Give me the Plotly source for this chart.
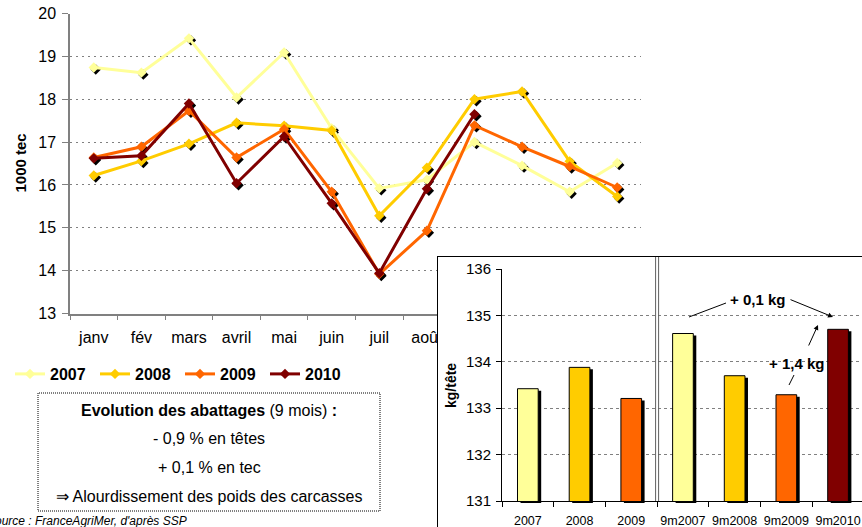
import plotly.graph_objects as go

W, H = 862, 527
FONT = "Liberation Sans, Arial, sans-serif"

# ---------------- data ----------------
months = ["janv", "fév", "mars", "avril", "mai", "juin", "juil", "août",
          "sept", "oct", "nov", "déc"]
years = ["2007", "2008", "2009", "2010"]
v2007 = [18.74, 18.62, 19.42, 18.04, 19.09, 17.32, 15.92, 16.12, 17.00, 16.45, 15.84, 16.51]
v2008 = [16.22, 16.56, 16.96, 17.45, 17.38, 17.27, 15.28, 16.40, 18.00, 18.18, 16.55, 15.73]
v2009 = [16.64, 16.89, 17.73, 16.64, 17.30, 15.84, 13.92, 14.93, 17.39, 16.89, 16.43, 15.94]
v2010 = [16.62, 16.68, 17.90, 16.04, 17.13, 15.57, 13.94, 15.91, 17.65]
series = [v2007, v2008, v2009, v2010]
year_colors = ["#FFFF99", "#FFCC00", "#FF6600", "#800000"]

bar_cats = ["2007", "2008", "2009", "9m2007", "9m2008", "9m2009", "9m2010"]
bar_vals = [133.42, 133.88, 133.21, 134.61, 133.70, 133.29, 134.70]
bar_colors = ["#FFFF99", "#FFCC00", "#FF6600", "#FFFF99", "#FFCC00", "#FF6600", "#800000"]

main_yticks = [13, 14, 15, 16, 17, 18, 19, 20]
inset_yticks = [131, 132, 133, 134, 135, 136]


def fx(p):
    return p / W


def fy(p):
    return 1 - p / H


# ---------------- geometry ----------------
MX = [fx(70), fx(641)]
MY = [fy(313.5), fy(13.5)]
SH = 2  # marker shadow offset (px)
MXS = [fx(70 + SH), fx(641 + SH)]
MYS = [fy(313.5 + SH), fy(13.5 + SH)]
MRX = [-0.5, 11.5]
MRY = [13, 20]

CX = [fx(438), 1]
CY = [0, fy(257)]

IX = [fx(502), 1]
IY = [fy(501), fy(269)]
CAT = 51.7
IRX = [-0.5, -0.5 + (W - 502) / CAT]
IRY = [131, 136]
BSX, BSY = 3, 2
IXS = [fx(502 + BSX), 1]
IYS = [fy(501 + BSY), fy(269 + BSY)]
IRXS = [-0.5, -0.5 + (W - 502 - BSX) / CAT]

fig = go.Figure()

# empty trace so that the main axes subplot (xy) is drawn
fig.add_trace(go.Scatter(x=[], y=[], xaxis="x", yaxis="y", showlegend=False,
                         hoverinfo="skip"))

# shadows of markers (subplot 2)
for vals in series:
    fig.add_trace(go.Scatter(
        x=months[:len(vals)], y=vals, mode="markers", xaxis="x2", yaxis="y2",
        marker=dict(symbol="diamond", size=8, color="black"),
        showlegend=False, hoverinfo="skip"))

# coloured lines (subplot 3)
for name, vals, col in zip(years, series, year_colors):
    fig.add_trace(go.Scatter(
        x=months[:len(vals)], y=vals, mode="lines+markers", name=name,
        xaxis="x3", yaxis="y3",
        line=dict(color=col, width=3),
        marker=dict(symbol="diamond", size=8, color=col)))

# empty traces to make the cover subplot and inset axes subplot exist
fig.add_trace(go.Scatter(x=[], y=[], xaxis="x4", yaxis="y4", showlegend=False,
                         hoverinfo="skip"))
fig.add_trace(go.Scatter(x=[], y=[], xaxis="x5", yaxis="y5", showlegend=False,
                         hoverinfo="skip"))

# bar shadows (subplot 6)
fig.add_trace(go.Bar(x=bar_cats, y=bar_vals, xaxis="x6", yaxis="y6", width=0.4,
                     marker=dict(color="black", line=dict(width=0)),
                     showlegend=False, hoverinfo="skip"))
# bars (subplot 7)
fig.add_trace(go.Bar(x=bar_cats, y=bar_vals, xaxis="x7", yaxis="y7", width=0.4,
                     marker=dict(color=bar_colors, line=dict(color="black", width=1)),
                     showlegend=False))

hidden = dict(visible=False, fixedrange=True, automargin=False)

layout = dict(
    width=W, height=H, margin=dict(l=0, r=0, t=0, b=0, pad=0),
    paper_bgcolor="white", plot_bgcolor="rgba(0,0,0,0)",
    font=dict(family=FONT, size=16, color="black"),
    barmode="overlay",
    # main visible axes
    xaxis=dict(domain=MX, anchor="y", type="category", categoryorder="array",
               categoryarray=months, range=MRX, tickson="boundaries",
               ticks="outside", ticklen=5, tickcolor="#808080",
               showline=True, linecolor="#808080", linewidth=1.5,
               showgrid=False, zeroline=False, tickfont=dict(size=16),
               ticklabelstandoff=9, tickangle=0, automargin=False, fixedrange=True),
    yaxis=dict(domain=MY, anchor="x", range=MRY, tickvals=main_yticks,
               ticks="outside", ticklen=6, tickcolor="#808080",
               showline=True, linecolor="#808080", linewidth=1.5,
               showgrid=True, gridcolor="#808080", griddash="2px,4px", gridwidth=1,
               zeroline=False, tickfont=dict(size=16), ticklabelstandoff=3,
               automargin=False, fixedrange=True),
    xaxis2=dict(domain=MXS, anchor="y2", type="category", categoryorder="array",
                categoryarray=months, range=MRX, **hidden),
    yaxis2=dict(domain=MYS, anchor="x2", range=MRY, **hidden),
    xaxis3=dict(domain=MX, anchor="y3", type="category", categoryorder="array",
                categoryarray=months, range=MRX, **hidden),
    yaxis3=dict(domain=MY, anchor="x3", range=MRY, **hidden),
    # cover box
    xaxis4=dict(domain=CX, anchor="y4", range=[0, 1], side="top", showline=True,
                linecolor="black", linewidth=1, showticklabels=False, ticks="",
                showgrid=False, zeroline=False, fixedrange=True, automargin=False),
    yaxis4=dict(domain=CY, anchor="x4", range=[0, 1], showline=True,
                linecolor="black", linewidth=1, showticklabels=False, ticks="",
                showgrid=False, zeroline=False, fixedrange=True, automargin=False),
    # inset visible axes
    xaxis5=dict(domain=IX, anchor="y5", type="category", categoryorder="array",
                categoryarray=bar_cats, range=IRX, tickson="boundaries",
                ticks="outside", ticklen=5, tickcolor="black",
                showline=True, linecolor="black", linewidth=1,
                showgrid=False, zeroline=False, tickfont=dict(size=12.5),
                tickangle=0, ticklabelstandoff=8, automargin=False, fixedrange=True),
    yaxis5=dict(domain=IY, anchor="x5", range=IRY, tickvals=inset_yticks,
                ticks="outside", ticklen=5, tickcolor="black",
                showline=True, linecolor="black", linewidth=1,
                showgrid=True, gridcolor="#808080", griddash="3px,3px", gridwidth=1,
                zeroline=False, tickfont=dict(size=15), ticklabelstandoff=2,
                automargin=False, fixedrange=True),
    xaxis6=dict(domain=IXS, anchor="y6", type="category", categoryorder="array",
                categoryarray=bar_cats, range=IRXS, **hidden),
    yaxis6=dict(domain=IYS, anchor="x6", range=IRY, **hidden),
    xaxis7=dict(domain=IX, anchor="y7", type="category", categoryorder="array",
                categoryarray=bar_cats, range=IRX, **hidden),
    yaxis7=dict(domain=IY, anchor="x7", range=IRY, **hidden),
    legend=dict(orientation="h", x=fx(10), y=fy(357), xanchor="left", yanchor="top",
                font=dict(size=16, family=FONT, color="black", weight="bold"),
                bgcolor="rgba(0,0,0,0)", itemwidth=30,
                entrywidth=40, entrywidthmode="pixels"),
)
fig.update_layout(**layout)

# separator position between "2009" and "9m2007"
sep = IX[0] + (2.5 - IRX[0]) / (IRX[1] - IRX[0]) * (IX[1] - IX[0])

shapes = [
    # white cover for the inset (drawn in subplot 4, below its axis lines)
    dict(type="rect", xref="x4", yref="y4", x0=0, x1=1, y0=0, y1=1,
         fillcolor="white", line=dict(width=0), layer="below"),
    # double separator line
    dict(type="line", xref="paper", yref="paper", x0=sep - 1.5 / W, x1=sep - 1.5 / W,
         y0=IY[0], y1=CY[1], line=dict(color="#606060", width=1)),
    dict(type="line", xref="paper", yref="paper", x0=sep + 1.5 / W, x1=sep + 1.5 / W,
         y0=IY[0], y1=CY[1], line=dict(color="#606060", width=1)),
    # text box
    dict(type="rect", xref="paper", yref="paper", x0=fx(38), x1=fx(380),
         y0=fy(511), y1=fy(393), line=dict(color="black", width=1, dash="1px,1px")),
    # plain connector lines for annotations
    dict(type="line", xref="paper", yref="paper", x0=fx(689), y0=fy(317),
         x1=fx(726), y1=fy(303), line=dict(color="black", width=1)),
    dict(type="line", xref="paper", yref="paper", x0=fx(789), y0=fy(385),
         x1=fx(794), y1=fy(375), line=dict(color="black", width=1)),
]
fig.update_layout(shapes=shapes)

ann = [
    dict(text="<b>1000 tec</b>", x=fx(20), y=fy(163.5), textangle=-90,
         font=dict(size=15)),
    dict(text="<b>kg/tête</b>", x=fx(451), y=fy(386), textangle=-90,
         font=dict(size=14)),
    dict(text="<b>Evolution des abattages</b> (9 mois) <b>:</b>", x=fx(209), y=fy(410),
         font=dict(size=16)),
    dict(text="- 0,9 % en têtes", x=fx(209), y=fy(438), font=dict(size=16)),
    dict(text="+ 0,1 % en tec", x=fx(209), y=fy(467), font=dict(size=16)),
    dict(text="⇒ Alourdissement des poids des carcasses", x=fx(209), y=fy(496),
         font=dict(size=16)),
    dict(text="<i>Source : FranceAgriMer, d'après SSP</i>", x=fx(-15), y=fy(521),
         xanchor="left", font=dict(size=12)),
    dict(text="<b>+ 0,1 kg</b>", x=fx(757), y=fy(299), font=dict(size=15)),
    dict(text="<b>+ 1,4 kg</b>", x=fx(796), y=fy(363), font=dict(size=15)),
]
for a in ann:
    a.setdefault("xref", "paper")
    a.setdefault("yref", "paper")
    a.setdefault("showarrow", False)
    a.setdefault("xanchor", "center")
    a.setdefault("yanchor", "middle")

arrows = [
    dict(x=fx(833), y=fy(317), ax=789 - 833, ay=299 - 317),
    dict(x=fx(818), y=fy(325), ax=808 - 818, ay=347 - 325),
]
for a in arrows:
    a.update(xref="paper", yref="paper", text="", showarrow=True, arrowhead=2,
             arrowsize=1, arrowwidth=1, arrowcolor="black", standoff=0)
fig.update_layout(annotations=ann + arrows)

fig.write_html("out.html", config={"displayModeBar": False},
               post_script="document.body.style.margin='0';"
                           "document.body.style.overflow='hidden';")
